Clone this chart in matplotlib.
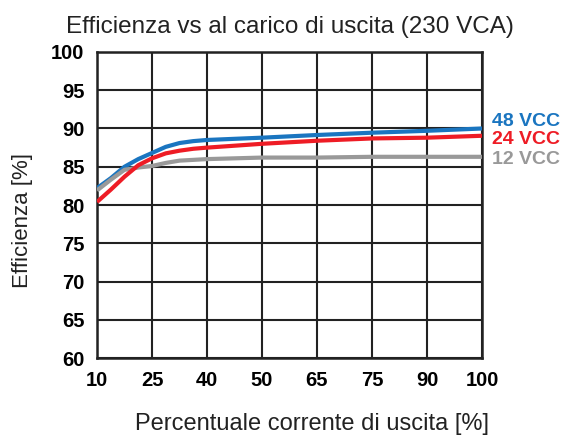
import matplotlib
matplotlib.use('Agg')
import matplotlib.pyplot as plt

plt.rcParams['font.family'] = ['Liberation Sans', 'DejaVu Sans']

# x categories (evenly spaced on the chart) and readings at each step
x_labels = ['10', '25', '40', '50', '65', '75', '90', '100']
x_pos = [0, 0.25, 0.5, 0.75, 1, 1.25, 1.5, 1.75, 2, 3, 4, 5, 6, 7]  # sampled positions along the category axis

eff_48 = [82.2, 83.5, 85.0, 86.0, 86.8, 87.6, 88.1, 88.35, 88.5, 88.8, 89.15, 89.45, 89.7, 90.0]
eff_24 = [80.4, 82.0, 83.7, 85.2, 86.1, 86.75, 87.1, 87.35, 87.5, 88.0, 88.4, 88.7, 88.8, 89.05]
eff_12 = [81.9, 83.3, 84.6, 84.9, 85.1, 85.5, 85.8, 85.9, 86.0, 86.2, 86.2, 86.3, 86.3, 86.3]

series = [('48 VCC', eff_48, '#1a75c0', 90.85),
          ('12 VCC', eff_12, '#999999', 85.9),
          ('24 VCC', eff_24, '#ee1c25', 88.5)]

fig = plt.figure(figsize=(5.63, 4.38), dpi=100)
ax = fig.add_axes([0.1723, 0.1826, 0.6838, 0.6987])

for name, vals, col, ly in series:
    ax.plot(x_pos, vals, color=col, lw=3.0, solid_capstyle='butt',
            solid_joinstyle='round', zorder=3)
    ax.text(1.025, ly, name, color=col, fontsize=14, fontweight='bold',
            transform=ax.get_yaxis_transform(), va='center', ha='left')

ax.set_xlim(0, 7)
ax.set_ylim(60, 100)
ax.set_xticks(range(len(x_labels)))
ax.set_xticklabels(x_labels)
ax.set_yticks(range(60, 101, 5))
ax.grid(True, color='#222222', lw=1.5)
ax.tick_params(length=0, labelsize=14.5, pad=9)
for lab in ax.get_xticklabels() + ax.get_yticklabels():
    lab.set_fontweight('bold')
for s in ax.spines.values():
    s.set_linewidth(1.8)
    s.set_color('#222222')

ax.set_title('Efficienza vs al carico di uscita (230 VCA)', fontsize=17.5, pad=14, color='#222222')
ax.set_ylabel('Efficienza [%]', fontsize=16, color='#222222')
ax.yaxis.set_label_coords(-0.165, 0.45)
ax.set_xlabel('Percentuale corrente di uscita [%]', fontsize=17, color='#222222')
ax.xaxis.set_label_coords(0.558, -0.18)

fig.savefig('out.png', dpi=100)
